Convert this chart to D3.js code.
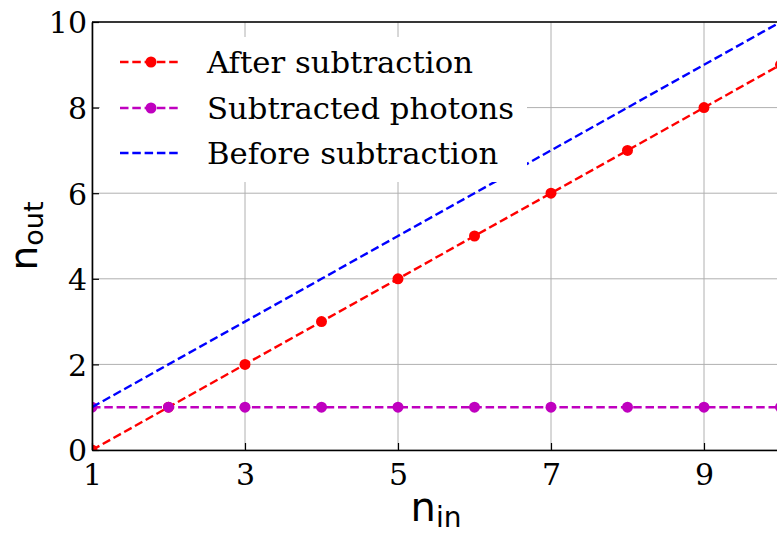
<!DOCTYPE html>
<html>
<head>
<meta charset="utf-8">
<script src="https://cdn.jsdelivr.net/npm/d3@7"></script>
<style>
  html, body { margin: 0; padding: 0; background: #fff; }
  svg { display: block; }
</style>
</head>
<body>
<div id="chart"></div>
<script>
// --- data ---
const nIn = [1, 2, 3, 4, 5, 6, 7, 8, 9, 10];
const afterSubtraction = [0, 1, 2, 3, 4, 5, 6, 7, 8, 9];
const subtractedPhotons = [1, 1, 1, 1, 1, 1, 1, 1, 1, 1];
const beforeSubtraction = [1, 2, 3, 4, 5, 6, 7, 8, 9, 10];
const xTicks = [1, 3, 5, 7, 9];
const yTicks = [0, 2, 4, 6, 8, 10];

const series = [
  { name: "After subtraction", values: afterSubtraction, color: "#ff0000", markers: true },
  { name: "Subtracted photons", values: subtractedPhotons, color: "#bf00bf", markers: true },
  { name: "Before subtraction", values: beforeSubtraction, color: "#0000ff", markers: false },
];

const W = 777, H = 536;
const plotL = 92, plotT = 22, plotB = 450, plotR = 780.5;

const svg = d3.select("#chart").append("svg")
  .attr("width", W).attr("height", H)
  .attr("viewBox", `0 0 ${W} ${H}`);

const x = d3.scaleLinear().domain([1, 10]).range([plotL, plotR]);
const y = d3.scaleLinear().domain([0, 10]).range([plotB, plotT]);

svg.append("defs").append("clipPath").attr("id", "plot-clip")
  .append("rect")
  .attr("x", plotL).attr("y", plotT)
  .attr("width", plotR - plotL).attr("height", plotB - plotT);

// --- grid ---
const grid = svg.append("g").attr("stroke", "#b0b0b0").attr("stroke-width", 1);
xTicks.forEach(t => grid.append("line")
  .attr("x1", x(t)).attr("x2", x(t)).attr("y1", plotT).attr("y2", plotB));
yTicks.forEach(t => grid.append("line")
  .attr("x1", plotL).attr("x2", plotR).attr("y1", y(t)).attr("y2", y(t)));

// --- series ---
const plot = svg.append("g").attr("clip-path", "url(#plot-clip)");
const line = d3.line().x((d, i) => x(nIn[i])).y(d => y(d));

series.forEach(s => {
  plot.append("path")
    .attr("d", line(s.values))
    .attr("fill", "none")
    .attr("stroke", s.color)
    .attr("stroke-width", 2.4)
    .attr("stroke-dasharray", "8.5,3.8");
  if (s.markers) {
    plot.selectAll(null).data(s.values).join("circle")
      .attr("cx", (d, i) => x(nIn[i]))
      .attr("cy", d => y(d))
      .attr("r", 5.5)
      .attr("fill", s.color);
  }
});

// --- axes (ticks pointing in) ---
const xAxis = d3.axisBottom(x).tickValues(xTicks).tickSizeInner(-7).tickSizeOuter(0).tickPadding(14);
const yAxis = d3.axisLeft(y).tickValues(yTicks).tickSizeInner(-7).tickSizeOuter(0).tickPadding(5);

const gx = svg.append("g").attr("transform", `translate(0,${plotB})`).call(xAxis);
const gy = svg.append("g").attr("transform", `translate(${plotL},0)`).call(yAxis);
[gx, gy].forEach(g => {
  g.select(".domain").attr("stroke", "#000").attr("stroke-width", 1.6);
  g.selectAll(".tick line").attr("stroke", "#000").attr("stroke-width", 1.2);
  g.selectAll(".tick text")
    .attr("fill", "#000")
    .style("font-family", "'DejaVu Serif', serif")
    .style("font-size", "30px");
});
gy.selectAll(".tick text").attr("dy", "0.36em");
// top spine
svg.append("line")
  .attr("x1", plotL).attr("x2", plotR).attr("y1", plotT).attr("y2", plotT)
  .attr("stroke", "#000").attr("stroke-width", 1.6);

// --- axis labels ---
const labelFont = "'DejaVu Sans', sans-serif";
const xl = svg.append("text")
  .attr("x", 436).attr("y", 521)
  .attr("text-anchor", "middle")
  .style("font-family", labelFont).style("font-size", "40px");
xl.append("tspan").text("n");
xl.append("tspan").attr("dy", 6).style("font-size", "28px").text("in");

const yl = svg.append("text")
  .attr("transform", `translate(37,236) rotate(-90)`)
  .attr("text-anchor", "middle")
  .style("font-family", labelFont).style("font-size", "39px");
yl.append("tspan").text("n");
yl.append("tspan").attr("dy", 6).style("font-size", "27px").text("out");

// --- legend ---
const legend = svg.append("g");
legend.append("rect")
  .attr("x", 100).attr("y", 37)
  .attr("width", 427).attr("height", 145)
  .attr("fill", "#fff");
const rowY = [62, 108, 153];
series.forEach((s, i) => {
  const g = legend.append("g").attr("transform", `translate(0,${rowY[i]})`);
  g.append("line")
    .attr("x1", 120).attr("x2", 181)
    .attr("stroke", s.color).attr("stroke-width", 2.4)
    .attr("stroke-dasharray", "8.5,3.8");
  if (s.markers) {
    g.append("circle").attr("cx", 151).attr("r", 5.5).attr("fill", s.color);
  }
  g.append("text")
    .attr("x", 207).attr("dy", "0.36em")
    .style("font-family", "'DejaVu Serif', serif")
    .style("font-size", "30.7px")
    .text(s.name);
});
</script>
</body>
</html>
